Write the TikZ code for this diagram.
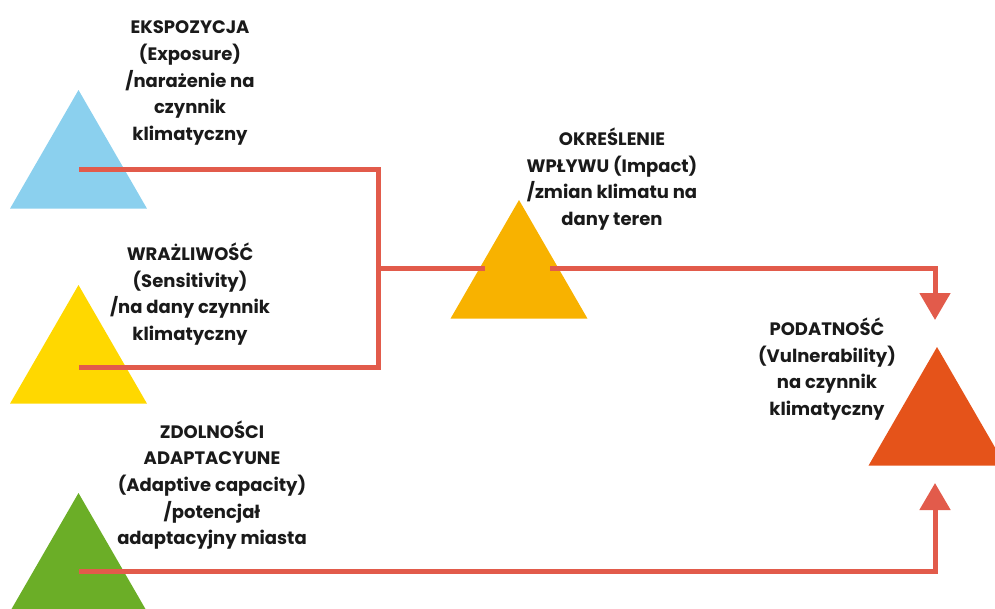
\documentclass[tikz,border=0pt]{standalone}
\usepackage{fontspec}
\setmainfont{Poppins}
\usetikzlibrary{shapes.geometric,arrows.meta}
\definecolor{linec}{HTML}{E25B4B}
\definecolor{blueT}{HTML}{8BD0EE}
\definecolor{yellowT}{HTML}{FFD800}
\definecolor{orangeT}{HTML}{F8B200}
\definecolor{greenT}{HTML}{6BAE27}
\definecolor{redT}{HTML}{E5531A}
\definecolor{txt}{HTML}{1A1A1A}
\begin{document}
\begin{tikzpicture}[x=1pt,y=-1pt,
  tri/.style={regular polygon, regular polygon sides=3, minimum size=158pt, inner sep=0pt, outer sep=0pt, draw=none},
  conn/.style={draw=linec, line width=5pt, line join=miter},
  tip/.style={-{Triangle[width=30pt,length=27pt]}},
  lbl/.style={align=center, text=txt, inner sep=0pt, font=\fontsize{18}{26.7}\selectfont\bfseries}]
\useasboundingbox (0,0) rectangle (995,608);
% triangles
\node[tri, fill=blueT] (blue) at (78.5,169) {};
\node[tri, fill=yellowT] (yellow) at (78.5,364) {};
\node[tri, fill=greenT] (green) at (78.5,572) {};
\node[tri, fill=orangeT] (impact) at (519,279) {};
\node[tri, fill=redT] (vuln) at (937,426) {};
% connector points
\coordinate (bs) at (79,169);
\coordinate (ys) at (79,367);
\coordinate (gs) at (79,571);
\coordinate (j) at (378,268);
\coordinate (iL) at (485,268);
\coordinate (iR) at (550,268);
\coordinate (tipT) at (935,320);
\coordinate (tipB) at (935,483);
% connectors
\draw[conn] (bs) -| (j);
\draw[conn] (ys) -| (j);
\draw[conn] (j) -- (iL);
\draw[conn, tip] (iR) -| (tipT);
\draw[conn, tip] (gs) -| (tipB);
% labels
\node[lbl] (tExp) at (190,83) {EKSPOZYCJA\\(Exposure)\\/narażenie na\\czynnik\\klimatyczny};
\node[lbl] (tSens) at (190,294) {WRAŻLIWOŚĆ\\(Sensitivity)\\/na dany czynnik\\klimatyczny};
\node[lbl] (tAd) at (212,485) {ZDOLNOŚCI\\ADAPTACYUNE\\(Adaptive capacity)\\/potencjał\\adaptacyjny miasta};
\node[lbl] (tImp) at (612,179) {OKREŚLENIE\\WPŁYWU (Impact)\\/zmian klimatu na\\dany teren};
\node[lbl] (tVul) at (827,369) {PODATNOŚĆ\\(Vulnerability)\\na czynnik\\klimatyczny};
\end{tikzpicture}
\end{document}
